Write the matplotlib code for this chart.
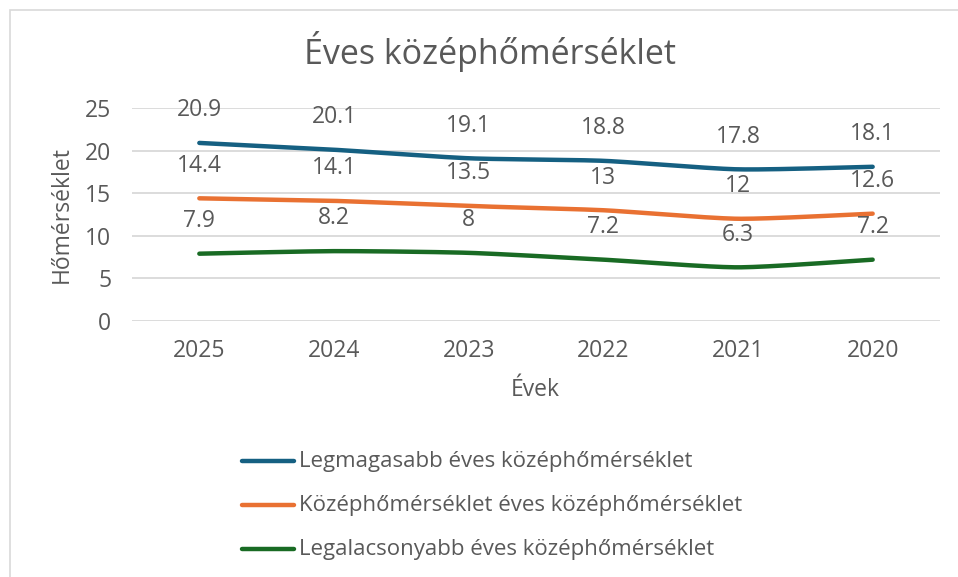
import numpy as np
import matplotlib
matplotlib.use("Agg")
import matplotlib.pyplot as plt
from matplotlib.patches import Rectangle

years = ["2025", "2024", "2023", "2022", "2021", "2020"]
legmagasabb = [20.9, 20.1, 19.1, 18.8, 17.8, 18.1]
kozep = [14.4, 14.1, 13.5, 13.0, 12.0, 12.6]
legalacsonyabb = [7.9, 8.2, 8.0, 7.2, 6.3, 7.2]
series_names = ["Legmagasabb éves középhőmérséklet",
                "Középhőmérséklet éves középhőmérséklet",
                "Legalacsonyabb éves középhőmérséklet"]
colors = ["#156082", "#E97132", "#196B24"]
yticks = [0, 5, 10, 15, 20, 25]

FONT = ["Open Sans", "DejaVu Sans"]
plt.rcParams['font.family'] = FONT
TXT = "#595959"

def smooth(x, y, n=30, k=0.11):
    # Bezier smoothing (Excel smoothed line look)
    x = np.asarray(x, float); y = np.asarray(y, float)
    px = np.concatenate([[x[0]], x, [x[-1]]])
    py = np.concatenate([[y[0]], y, [y[-1]]])
    xs, ys = [], []
    for i in range(1, len(px) - 2):
        p0, p1, p2, p3 = [np.array([px[j], py[j]]) for j in (i-1, i, i+1, i+2)]
        c1 = p1 + (p2 - p0) * k
        c2 = p2 - (p3 - p1) * k
        t = np.linspace(0, 1, n)[:, None]
        b = ((1-t)**3)*p1 + 3*((1-t)**2)*t*c1 + 3*(1-t)*t**2*c2 + t**3*p2
        xs.extend(b[:, 0]); ys.extend(b[:, 1])
    return np.array(xs), np.array(ys)

fig = plt.figure(figsize=(9.58, 5.77), dpi=100)
fig.patch.set_facecolor("white")
W, H = 958, 577
fig.patches.append(Rectangle((10/W, -0.1), 1.2, 1 - 10/H + 0.1, transform=fig.transFigure,
                             fill=False, edgecolor="#D9D9D9", lw=1.2))

ax = fig.add_axes([132/W, 1 - 321/H, (940-132)/W, (321-108)/H])
ax.set_xlim(-0.5, len(years) - 0.5)
ax.set_ylim(0, 25)
ax.set_yticks(yticks)
ax.set_xticks(range(len(years)))
ax.set_xticklabels(years)
for s in ax.spines.values():
    s.set_visible(False)
ax.tick_params(length=0, labelsize=16.5, labelcolor=TXT)
ax.tick_params(axis='y', pad=15)
ax.tick_params(axis='x', pad=13)
ax.grid(axis='y', color="#D9D9D9", lw=1.3)
ax.set_axisbelow(True)

xi = np.arange(len(years))
for vals, c, name in zip([legmagasabb, kozep, legalacsonyabb], colors, series_names):
    sx, sy = smooth(xi, vals)
    ax.plot(sx, sy, color=c, lw=3.2, solid_capstyle='round', label=name)
    for x, v in zip(xi, vals):
        ax.annotate(f"{v:g}", (x, v), xytext=(0, 23.5), textcoords="offset points",
                    ha="center", va="center", fontsize=16.5, color=TXT)

fig.text(490/W, 1 - 52/H, "Éves középhőmérséklet", ha="center", va="center",
         fontsize=24.5, color=TXT)
fig.text(62/W, 1 - 215/H, "Hőmérséklet", ha="center", va="center", rotation=90,
         fontsize=16.5, color=TXT)
fig.text(535/W, 1 - 390/H, "Évek", ha="center", va="center", fontsize=16.5, color=TXT)

for i, (c, name) in enumerate(zip(colors, series_names)):
    yy = 1 - (461 + i * 44) / H
    fig.lines.append(plt.Line2D([242/W, 294/W], [yy, yy], transform=fig.transFigure,
                                color=c, lw=3.2, solid_capstyle='round'))
    fig.text(299/W, yy, name, ha="left", va="center", fontsize=16, color=TXT)

fig.savefig("out.png", dpi=100)
